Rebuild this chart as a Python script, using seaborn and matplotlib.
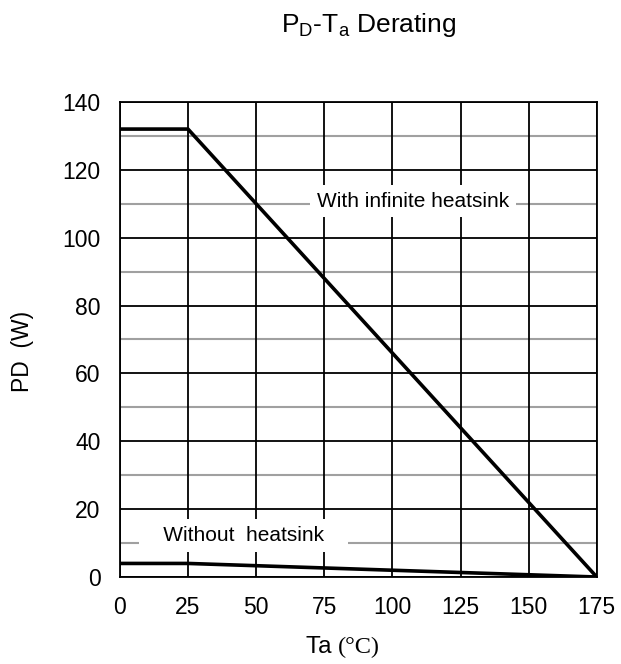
import matplotlib
matplotlib.use("Agg")
import matplotlib.pyplot as plt
import pandas as pd
import seaborn as sns

TA_INFINITE = [0, 25, 175]
PD_INFINITE = [132, 132, 0]
TA_NO_SINK = [0, 25, 175]
PD_NO_SINK = [4, 4, 0]
X_TICKS = [0, 25, 50, 75, 100, 125, 150, 175]
Y_TICKS = [0, 20, 40, 60, 80, 100, 120, 140]
Y_MINOR = [10, 30, 50, 70, 90, 110, 130]


def main() -> None:
    sns.set_theme(style="white")
    plt.rcParams["font.family"] = ["Liberation Sans", "DejaVu Sans"]
    plt.rcParams["text.color"] = "black"
    plt.rcParams["axes.labelcolor"] = "black"

    df = pd.concat(
        [
            pd.DataFrame({"Ta": TA_INFINITE, "PD": PD_INFINITE, "case": "infinite"}),
            pd.DataFrame({"Ta": TA_NO_SINK, "PD": PD_NO_SINK, "case": "none"}),
        ]
    )

    fig = plt.figure(figsize=(6.21, 6.64), dpi=100)
    ax = fig.add_axes([0.193, 0.131, 0.768, 0.7155])

    # grid: gray lines at odd tens, black lines at majors
    for y in Y_MINOR:
        ax.axhline(y, color="#a0a0a0", lw=1.5, zorder=1)
    for y in Y_TICKS:
        ax.axhline(y, color="black", lw=1.3, zorder=1)
    for x in X_TICKS:
        ax.axvline(x, color="black", lw=1.3, zorder=1)

    sns.lineplot(
        data=df, x="Ta", y="PD", hue="case", palette=["black", "black"],
        linewidth=2.6, legend=False, ax=ax, zorder=3, sort=False,
    )

    box = dict(facecolor="white", edgecolor="none", pad=5)
    ax.text(107.5, 110.8, "With infinite heatsink", ha="center", va="center",
            fontsize=15, bbox=box, zorder=2)
    ax.text(45.5, 12.2, "   Without  heatsink   ", ha="center", va="center",
            fontsize=15, bbox=box, zorder=2)

    ax.set_xlim(0, 175)
    ax.set_ylim(0, 140)
    ax.set_xticks(X_TICKS)
    ax.set_yticks(Y_TICKS)
    ax.tick_params(axis="both", length=0, labelsize=16.5, colors="black")
    ax.tick_params(axis="y", pad=14)
    ax.tick_params(axis="x", pad=14)
    for s in ax.spines.values():
        s.set_color("black")
        s.set_linewidth(1.3)

    ax.set_ylabel("")
    ax.set_xlabel("")
    fig.text(22 / 621, 0.47, "PD  (W)", fontsize=16.5, rotation=90,
             ha="center", va="center")
    fig.text(0.544, 0.0166, "Ta ", fontsize=17.5, ha="right", va="baseline")
    fig.text(0.544, 0.0166, "(°C)", fontsize=17.5, ha="left", va="baseline",
             family="Liberation Serif")
    fig.text(0.593, 0.952, r"P$_\mathregular{D}$-T$_\mathregular{a}$ Derating",
             fontsize=19, ha="center", va="baseline")

    fig.savefig("out.png", dpi=100)


if __name__ == "__main__":
    main()
